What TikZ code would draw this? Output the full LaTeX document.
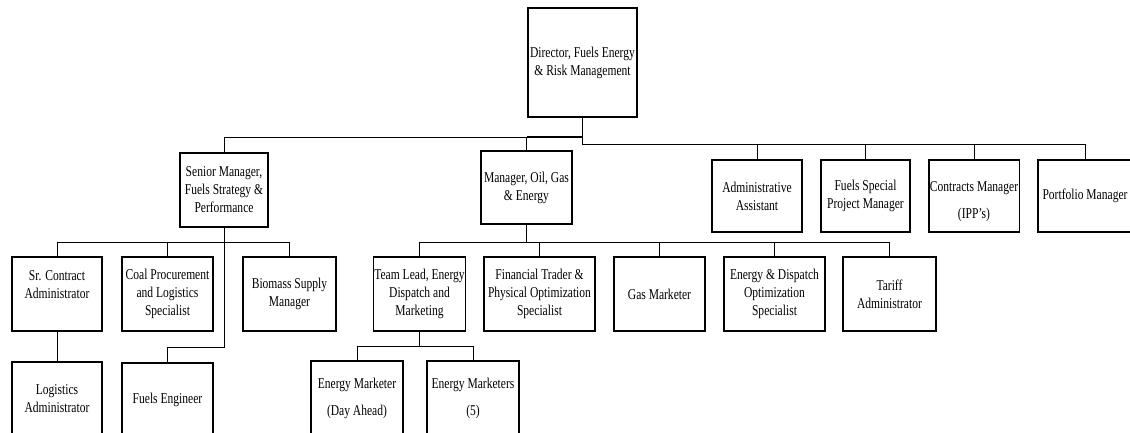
\documentclass[tikz,border=0pt]{standalone}
\usepackage{fontspec}
\setmainfont{Liberation Serif}[FakeStretch=0.77]

\begin{document}
\begin{tikzpicture}[x=1pt, y=-1pt,
        post/.style={draw, line width=1.2pt, align=center, inner sep=1pt,
          minimum width=#1, minimum height=74pt,
          font=\fontsize{15}{18}\selectfont},
        post/.default=90pt,
        link/.style={line width=1pt}
      ]
      \useasboundingbox (0,0) rectangle (1130,433);

      % director
      \node[post=109pt, minimum height=109pt] (dir) at (582.5,62.5) {Director, Fuels Energy\\\& Risk Management};

      % first level
      \node[post=88pt] (sm) at (224,190) {Senior Manager,\\Fuels Strategy \&\\Performance};
      \node[post=91pt, minimum height=73pt] (mog) at (526.5,187.5) {Manager, Oil, Gas\\\& Energy};
      \node[post=90pt, minimum height=72pt] (aa) at (757,196) {Administrative\\Assistant};
      \node[post=89pt, minimum height=72pt] (fsp) at (865.5,196) {Fuels Special\\Project Manager};
      \node[post=90pt, minimum height=72pt] (cm) at (974,196) {\mbox{}\\[3pt]Contracts Manager\\[9pt](IPP’s)};
      \node[post=94pt, minimum height=72pt] (pm) at (1085,196) {Portfolio Manager};

      % second level
      \node[post] (sca) at (57,294) {Sr. Contract\\Administrator\\\mbox{}};
      \node[post=91pt] (cpl) at (167.5,294) {Coal Procurement\\and Logistics\\Specialist};
      \node[post=93pt] (bsm) at (289.5,294) {Biomass Supply\\Manager};
      \node[post=91pt] (tl) at (419.5,294) {Team Lead, Energy\\Dispatch and\\Marketing};
      \node[post=111pt] (ft) at (539.5,294) {Financial Trader \&\\Physical Optimization\\Specialist};
      \node[post=91pt] (gm) at (659.5,294) {Gas Marketer};
      \node[post=101pt] (eds) at (774.5,294) {Energy \& Dispatch\\Optimization\\Specialist};
      \node[post=93pt] (ta) at (889.5,294) {Tariff\\Administrator};

      % third level
      \node[post] (la) at (57,399) {Logistics\\Administrator};
      \node[post=91pt] (fe) at (167.5,400) {Fuels Engineer};
      \node[post=92pt] (emd) at (357,398) {Energy Marketer\\[9pt](Day Ahead)};
      \node[post=92pt] (ems) at (473,398) {Energy Marketers\\[9pt](5)};

      % connectors
      \draw[link] (dir.south) |- (sm.north |- 0,138) -- (sm.north);
      \draw[link] (dir.south) |- (pm.north |- 0,145) -- (pm.north);
      \draw[line width=2.4pt] (mog.north |- 0,137) -- (dir.south |- 0,137);
      \draw[link] (mog.north) -- (mog.north |- 0,138);
      \foreach \n in {aa,fsp,cm}
        \draw[link] (\n.north) -- (\n.north |- 0,145);

      \draw[link] (sm.south) -- (sm.south |- 0,347) -| (fe.north);
      \draw[link] (sca.north) |- (bsm.north |- 0,242) -- (bsm.north);
      \draw[link] (cpl.north) -- (cpl.north |- 0,242);
      \draw[link] (sca.south) -- (la.north);

      \draw[link] (mog.south) -- (mog.south |- 0,242);
      \draw[link] (tl.north) |- (ta.north |- 0,242) -- (ta.north);
      \foreach \n in {ft,gm,eds}
        \draw[link] (\n.north) -- (\n.north |- 0,242);

      \draw[link] (tl.south) -- (tl.south |- 0,346);
      \draw[link] (emd.north) |- (ems.north |- 0,346) -- (ems.north);

    \end{tikzpicture}
\end{document}
